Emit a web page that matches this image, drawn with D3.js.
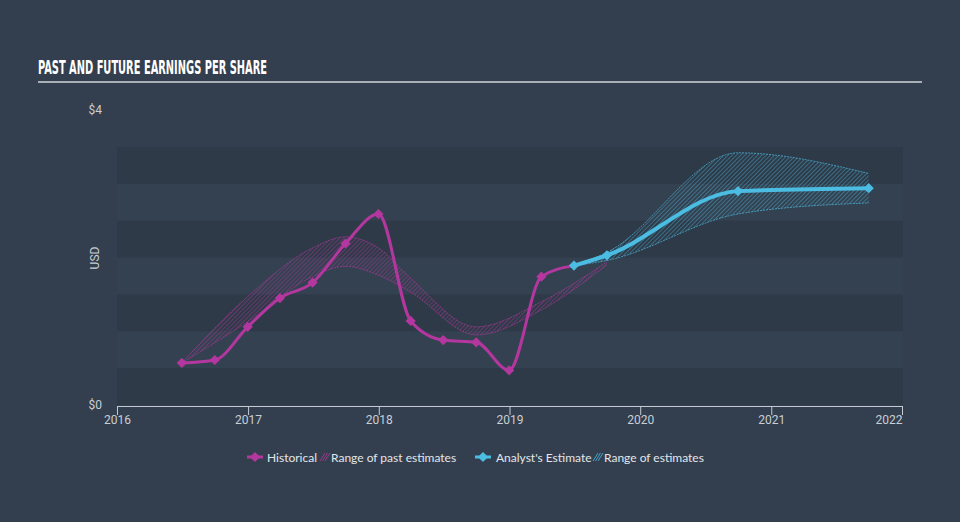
<!DOCTYPE html>
<html>
<head>
<meta charset="utf-8">
<script src="https://cdn.jsdelivr.net/npm/d3@7"></script>
<style>
  html, body { margin: 0; padding: 0; background: #333f4e; }
  svg { display: block; }
</style>
</head>
<body>
<svg id="chart" width="960" height="522"></svg>
<script>
// ---------- data ----------
const histDates = ["2016-06-30","2016-09-30","2016-12-31","2017-03-31","2017-06-30","2017-09-30","2017-12-31","2018-03-31","2018-06-30","2018-09-30","2018-12-31","2019-03-31","2019-06-30"];
const histValues = [0.57, 0.61, 1.06, 1.45, 1.66, 2.19, 2.59, 1.14, 0.88, 0.85, 0.47, 1.74, 1.89];

const pastRangeDates = ["2016-06-30","2016-12-31","2017-06-30","2017-09-30","2017-12-31","2018-03-31","2018-09-30","2019-03-31","2019-09-30"];
const pastRangeHigh = [0.57, 1.47, 2.13, 2.28, 2.13, 1.72, 1.06, 1.40, 1.94];
const pastRangeLow  = [0.57, 1.13, 1.74, 1.88, 1.76, 1.53, 0.95, 1.29, 1.90];

const estDates = ["2019-06-30","2019-09-30","2020-09-30","2021-09-30"];
const estValues = [1.89, 2.03, 2.90, 2.94];
const estHigh = [1.89, 2.07, 3.42, 3.14];
const estLow  = [1.89, 1.96, 2.59, 2.74];

const xTickYears = [2016, 2017, 2018, 2019, 2020, 2021, 2022];
const yTickValues = [0, 4];
const legendLabels = ["Historical", "Range of past estimates", "Analyst's Estimate", "Range of estimates"];
const titleText = "PAST AND FUTURE EARNINGS PER SHARE";

// ---------- styles ----------
const C_BG = "#333f4e", C_STRIPE = "#2e3a48";
const C_HIST = "#b4379f", C_EST = "#4bbde3";
const C_TEXT = "#c9ced5";

const svg = d3.select("#chart");
const parse = d3.timeParse("%Y-%m-%d");

const x = d3.scaleTime()
  .domain([new Date(2016,0,1), new Date(2022,0,1)])
  .range([117, 902]);
const y = d3.scaleLinear().domain([0, 4]).range([405, 110]);

svg.append("rect").attr("width", 960).attr("height", 522).attr("fill", C_BG);

// title
svg.append("text")
  .attr("x", 38).attr("y", 74)
  .attr("font-family", "'Liberation Sans Narrow','DejaVu Sans Condensed','Roboto',sans-serif")
  .attr("font-weight", "bold").attr("font-size", 19)
  .attr("textLength", 229).attr("lengthAdjust", "spacingAndGlyphs")
  .attr("fill", "#ffffff").text(titleText);
svg.append("line").attr("x1", 38).attr("x2", 922).attr("y1", 82).attr("y2", 82)
  .attr("stroke", "#a9afb7").attr("stroke-width", 2);

// stripes (every 0.5)
const stripeSteps = d3.range(0, 3.5, 0.5);
svg.append("g").selectAll("rect").data(stripeSteps).join("rect")
  .attr("x", x.range()[0]).attr("width", x.range()[1] - x.range()[0] + 1)
  .attr("y", d => y(d + 0.5)).attr("height", d => y(d) - y(d + 0.5))
  .attr("fill", (d, i) => i % 2 === 0 ? C_STRIPE : "#344150");

// patterns
const defs = svg.append("defs");
function hatch(id, color) {
  const p = defs.append("pattern").attr("id", id)
    .attr("patternUnits", "userSpaceOnUse").attr("width", 3).attr("height", 3)
    .attr("patternTransform", "rotate(45)");
  p.append("line").attr("x1", 0).attr("y1", 0).attr("x2", 0).attr("y2", 3)
    .attr("stroke", color).attr("stroke-width", 1).attr("opacity", 0.8);
}
hatch("hatchPast", C_HIST);
hatch("hatchEst", C_EST);

// axes
const xAxis = d3.axisBottom(x)
  .tickValues(xTickYears.map(yr => new Date(yr, 0, 1)))
  .tickFormat(d3.timeFormat("%Y"))
  .tickSize(9).tickPadding(0);
const gx = svg.append("g").attr("transform", "translate(0,406)").call(xAxis);
gx.select(".domain").attr("stroke", "#c4cad2").attr("stroke-width", 1);
gx.selectAll(".tick line").attr("stroke", "#c4cad2");
gx.selectAll(".tick text").attr("fill", C_TEXT)
  .attr("font-family", "Roboto, sans-serif").attr("font-size", 12);
gx.selectAll(".tick").filter((d, i, n) => i === n.length - 1).select("text")
  .attr("text-anchor", "end");

const yAxis = d3.axisLeft(y).tickValues(yTickValues)
  .tickFormat(d => "$" + d).tickSize(0).tickPadding(15);
const gy = svg.append("g").attr("transform", "translate(117,0)").call(yAxis);
gy.select(".domain").remove();
gy.selectAll(".tick text").attr("fill", C_TEXT)
  .attr("font-family", "Roboto, sans-serif").attr("font-size", 12);

svg.append("text").attr("transform", "translate(96,258) rotate(-90)")
  .attr("text-anchor", "middle").attr("dominant-baseline", "middle")
  .attr("fill", C_TEXT).attr("font-family", "Roboto, sans-serif").attr("font-size", 12)
  .text("USD");

// bands
const pastBand = pastRangeDates.map((d, i) => ({ d: parse(d), hi: pastRangeHigh[i], lo: pastRangeLow[i] }));
const estBand = estDates.map((d, i) => ({ d: parse(d), hi: estHigh[i], lo: estLow[i] }));

const area = d3.area().x(p => x(p.d)).y0(p => y(p.lo)).y1(p => y(p.hi)).curve(d3.curveMonotoneX);
const lineHi = d3.line().x(p => x(p.d)).y(p => y(p.hi)).curve(d3.curveMonotoneX);
const lineLo = d3.line().x(p => x(p.d)).y(p => y(p.lo)).curve(d3.curveMonotoneX);

function drawBand(data, pat, color) {
  const g = svg.append("g");
  g.append("path").datum(data).attr("d", area).attr("fill", `url(#${pat})`);
  [lineHi, lineLo].forEach(l => g.append("path").datum(data).attr("d", l)
    .attr("fill", "none").attr("stroke", color).attr("stroke-width", 0.8)
    .attr("stroke-dasharray", "2,1").attr("opacity", 0.85));
}
drawBand(pastBand, "hatchPast", C_HIST);
drawBand(estBand, "hatchEst", C_EST);

// lines
const hist = histDates.map((d, i) => ({ d: parse(d), v: histValues[i] }));
const est = estDates.map((d, i) => ({ d: parse(d), v: estValues[i] }));
const line = d3.line().x(p => x(p.d)).y(p => y(p.v)).curve(d3.curveMonotoneX);

svg.append("path").datum(hist).attr("d", line).attr("fill", "none")
  .attr("stroke", C_HIST).attr("stroke-width", 3);
svg.append("path").datum(est).attr("d", line).attr("fill", "none")
  .attr("stroke", C_EST).attr("stroke-width", 4);

const diamond = d3.symbol().type(d3.symbolSquare).size(52);
const mk = (cx, cy) => `translate(${cx},${cy}) rotate(45)`;
svg.append("g").selectAll("path").data(hist.slice(0, -1)).join("path")
  .attr("d", diamond).attr("transform", p => mk(x(p.d), y(p.v)))
  .attr("fill", C_HIST);
svg.append("g").selectAll("path").data(est).join("path")
  .attr("d", diamond).attr("transform", p => mk(x(p.d), y(p.v)))
  .attr("fill", C_EST);

// legend
const lg = svg.append("g").attr("font-family", "Lato, 'Open Sans', sans-serif")
  .attr("font-size", 12).attr("fill", "#e3e6ea");
function legMarker(cx, color) {
  lg.append("line").attr("x1", cx - 8).attr("x2", cx + 8).attr("y1", 457).attr("y2", 457)
    .attr("stroke", color).attr("stroke-width", 3);
  lg.append("path").attr("d", diamond).attr("transform", mk(cx, 457)).attr("fill", color);
}
function legHatch(x0, color) {
  for (let k = 0; k < 3; k++) {
    lg.append("line").attr("x1", x0 + k * 2.5).attr("y1", 461).attr("x2", x0 + k * 2.5 + 5).attr("y2", 453)
      .attr("stroke", color).attr("stroke-width", 1).attr("opacity", 0.8);
  }
}
legMarker(255, C_HIST);
lg.append("text").attr("x", 267).attr("y", 461.5).text(legendLabels[0]);
legHatch(320, C_HIST);
lg.append("text").attr("x", 331).attr("y", 461.5).text(legendLabels[1]);
legMarker(483, C_EST);
lg.append("text").attr("x", 496).attr("y", 461.5).text(legendLabels[2]);
legHatch(593, C_EST);
lg.append("text").attr("x", 604).attr("y", 461.5).text(legendLabels[3]);
</script>
</body>
</html>
